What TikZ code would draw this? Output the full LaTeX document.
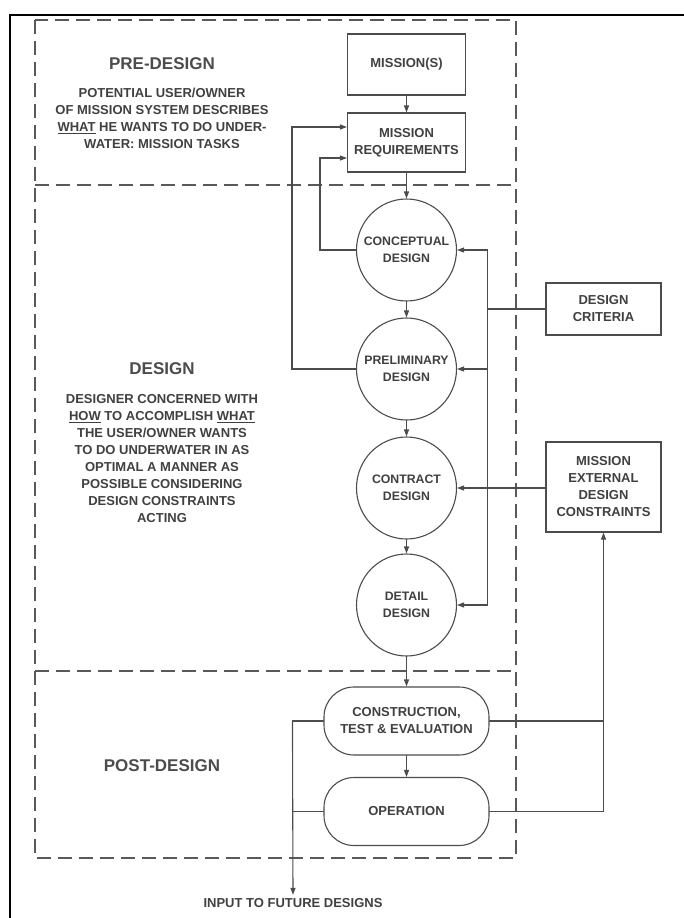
\documentclass[tikz,border=0pt]{standalone}
\usepackage{fontspec}
\setmainfont{Liberation Sans}
\usetikzlibrary{arrows.meta, shapes.geometric, calc}

\begin{document}
\begin{tikzpicture}
% Style
[
    x=1pt, y=-1pt, line cap=round,
    flow line/.style={draw=black!70, line width=1.1pt},
    flow arrow/.style={flow line, -{Triangle[length=7pt,width=5pt]}},
    phase line/.style={draw=black!65, line width=1.1pt, line cap=butt, dash pattern=on 14pt off 7pt},
    frame line/.style={draw=black, line width=2pt, line cap=butt},
    label text/.style={font=\fontsize{13}{17}\selectfont\bfseries, text=black!75, align=center},
    title text/.style={font=\fontsize{17}{20}\selectfont\bfseries, text=black!70},
    task box/.style={rectangle, flow line, label text, inner sep=0pt},
    design step/.style={ellipse, flow line, label text, font=\fontsize{12.3}{17}\selectfont\bfseries, inner sep=-16pt, minimum width=100pt, minimum height=102pt},
    post step/.style={rectangle, rounded corners=30pt, flow line, label text, inner sep=0pt, minimum width=165pt, minimum height=68pt}
]

% Define: Params
\newcommand{\ctrx}{406.5} %main column
\newcommand{\sidex}{603.5} %side boxes
\newcommand{\textx}{162}  %phase texts

\useasboundingbox (0,0) rectangle (684,918);

%================================== Frame ==================================
\draw[frame line] (10,918) -- (10,14.5) -- (684,14.5);

% Draw: Phases
\draw[phase line] (35,20) rectangle (516,858);
\draw[phase line] (35,185) -- (516,185);
\draw[phase line] (35,671) -- (516,671);

%================================== Texts ==================================
\node[title text] (pretitle) at (\textx,64) {PRE-DESIGN};
\node[label text] (pretext) at (\textx,118.5) {POTENTIAL USER/OWNER\\OF MISSION SYSTEM DESCRIBES\\\underline{WHAT} HE WANTS TO DO UNDER-\\WATER: MISSION TASKS};
\node[title text] (destitle) at (\textx,369) {DESIGN};
\node[label text] (destext) at (\textx,458.5) {DESIGNER CONCERNED WITH\\\underline{HOW} TO ACCOMPLISH \underline{WHAT}\\THE USER/OWNER WANTS\\TO DO UNDERWATER IN AS\\OPTIMAL A MANNER AS\\POSSIBLE CONSIDERING\\DESIGN CONSTRAINTS\\ACTING};
\node[title text] (posttitle) at (\textx,766) {POST-DESIGN};

%================================== Nodes ==================================
\node[task box, minimum width=118pt, minimum height=61pt] (mission) at (\ctrx,64.5) {MISSION(S)};
\node[task box, minimum width=118pt, minimum height=59pt] (missreq) at (\ctrx,142.5) {MISSION\\REQUIREMENTS};
\node[design step] (concept) at (\ctrx,250) {CONCEPTUAL\\DESIGN};
\node[design step] (prelim) at (\ctrx,369) {PRELIMINARY\\DESIGN};
\node[design step] (contract) at (\ctrx,488) {CONTRACT\\DESIGN};
\node[design step] (detail) at (\ctrx,605) {DETAIL\\DESIGN};
\node[post step] (construct) at (\ctrx,721) {CONSTRUCTION,\\TEST \& EVALUATION};
\node[post step] (operation) at (\ctrx,811.5) {OPERATION};
\node[task box, minimum width=115pt, minimum height=52pt] (criteria) at (\sidex,309) {DESIGN\\CRITERIA};
\node[task box, minimum width=115pt, minimum height=90pt] (constraints) at (\sidex,487) {MISSION\\EXTERNAL\\DESIGN\\CONSTRAINTS};
\node[label text] (future) at (293,903) {INPUT TO FUTURE DESIGNS};

%================================== Links ==================================
% Draw: main column
\draw[flow arrow] (mission) -- (missreq);
\draw[flow arrow] (missreq) -- (concept);
\draw[flow arrow] (concept) -- (prelim);
\draw[flow arrow] (prelim) -- (contract);
\draw[flow arrow] (contract) -- (detail);
\draw[flow arrow] (detail) -- (construct);
\draw[flow arrow] (construct) -- (operation);

% Draw: feedback to requirements
\draw[flow arrow] (concept.west) -- ++(-36,0) |- ([yshift=-15.5pt]missreq.west);
\draw[flow arrow] (prelim.west) -- ++(-64,0) |- ([yshift=15.5pt]missreq.west);

% Draw: design criteria bus
\coordinate (critbus) at ($(criteria.west)+(-58,0)$);
\draw[flow line] (criteria.west) -- (critbus);
\draw[flow arrow] (critbus) |- (concept.east);
\draw[flow arrow] (critbus) |- (detail.east);
\draw[flow arrow] (critbus |- prelim.east) -- (prelim.east);
\draw[flow arrow] (constraints.west |- contract.east) -- (contract.east);

% Draw: outputs
\coordinate (outbus) at ($(construct.west)+(-31,0)$);
\draw[flow line] (construct.west) -- (outbus);
\draw[flow line] (operation.west) -- (outbus |- operation.west);
\draw[flow arrow] (outbus) -- (future.north);
\draw[flow line] (construct.east) -- (construct.east -| constraints.south);
\draw[flow arrow] (operation.east) -| (constraints.south);
%==================================== END ====================================
\end{tikzpicture}
\end{document}
